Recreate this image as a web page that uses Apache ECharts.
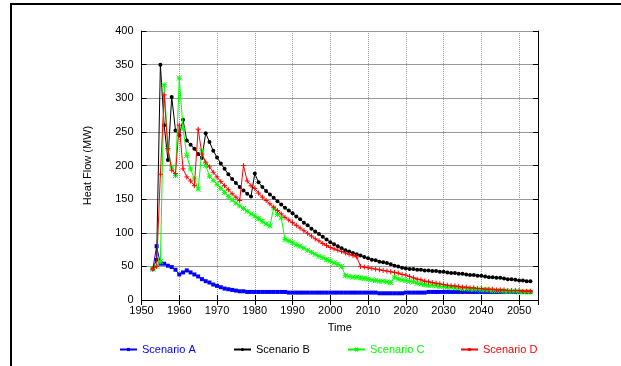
<!DOCTYPE html>
<html>
<head>
<meta charset="utf-8">
<script src="https://cdn.jsdelivr.net/npm/echarts@6/dist/echarts.min.js"></script>
<style>
html,body{margin:0;padding:0;background:#fff;}
#chart{width:621px;height:366px;}
</style>
</head>
<body>
<div id="chart"></div>
<script>
// Years 1953..2053
const years = [];
for (let y = 1953; y <= 2053; y++) years.push(y);

const seriesNames = ['Scenario A', 'Scenario B', 'Scenario C', 'Scenario D'];
const xTicks = [1950, 1960, 1970, 1980, 1990, 2000, 2010, 2020, 2030, 2040, 2050];
const yTicks = [0, 50, 100, 150, 200, 250, 300, 350, 400];

const scenarioA = [
  46, 80, 54, 54, 51, 49, 45, 38, 41, 44,
  41, 38, 35, 31, 28, 26, 23, 21, 19, 17,
  16, 15, 14, 13, 13, 12, 12, 12, 12, 12,
  12, 12, 12, 12, 12, 12, 11, 11, 11, 11,
  11, 11, 11, 11, 11, 11, 11, 11, 11, 11,
  11, 11, 11, 11, 11, 11, 11, 11, 11, 11,
  10, 10, 10, 10, 10, 10, 10, 11, 11, 11,
  11, 11, 11, 12, 12, 12, 12, 12, 12, 12,
  12, 12, 12, 12, 12, 12, 12, 12, 12, 12,
  12, 12, 12, 12, 12, 12, 12, 12, 12, 12,
  12
];
const scenarioB = [
  47, 60, 350, 260, 208, 302, 252, 245, 268, 237,
  231, 225, 217, 211, 248, 235, 222, 212, 203, 195,
  187, 180, 174, 168, 163, 158, 154, 188, 175, 168,
  162, 157, 152, 147, 142, 137, 133, 129, 124, 120,
  115, 111, 106, 102, 98, 94, 90, 86, 83, 80,
  77, 74, 72, 70, 68, 66, 64, 62, 60, 59,
  57, 56, 55, 53, 51, 50, 48, 47, 46, 46,
  45, 45, 44, 44, 43, 43, 42, 42, 41, 40,
  40, 39, 39, 38, 37, 37, 36, 36, 35, 34,
  34, 33, 33, 32, 31, 31, 30, 29, 29, 28,
  28
];
const scenarioC = [
  46, 50, 57, 320, 225, 198, 185, 330, 255, 215,
  195, 180, 165, 222, 200, 184, 178, 172, 166, 160,
  154, 149, 144, 140, 136, 132, 128, 125, 121, 117,
  113, 110, 137, 127, 122, 90, 88, 85, 82, 80,
  77, 74, 71, 68, 65, 63, 60, 58, 55, 53,
  50, 36, 35, 34, 34, 33, 32, 31, 30, 29,
  28, 28, 27, 26, 34, 31, 30, 29, 28, 27,
  25, 24, 23, 22, 22, 21, 20, 20, 19, 19,
  18, 18, 17, 17, 16, 16, 16, 15, 15, 15,
  14, 14, 14, 13, 13, 13, 13, 12, 12, 12,
  12
];
const scenarioD = [
  46, 50, 187, 305, 225, 193, 188, 260, 195, 183,
  177, 170, 254, 217, 205, 198, 190, 183, 176, 170,
  164, 158, 153, 148, 200, 177, 170, 166, 159, 153,
  148, 143, 138, 133, 128, 123, 119, 115, 111, 107,
  103, 99, 95, 91, 88, 84, 81, 78, 76, 74,
  72, 70, 68, 66, 64, 50, 49, 48, 47, 46,
  45, 44, 43, 42, 41, 40, 38, 37, 35, 33,
  31, 30, 28, 27, 26, 25, 24, 23, 22, 21,
  21, 20, 19, 19, 18, 18, 17, 17, 16, 16,
  16, 15, 15, 15, 14, 14, 14, 14, 13, 13,
  13
];

const colors = ['#0000ff', '#000000', '#00ff00', '#ff0000'];
const symbols = [
  'rect',
  'circle',
  'path://M0,0L10,10M10,0L0,10M5,0L5,10M0,5L10,5',
  'path://M5,0L5,10M0,5L10,5'
];
const symbolSizes = [4, 4, 5, 5];
const allValues = [scenarioA, scenarioB, scenarioC, scenarioD];

const FONT = '"Liberation Sans", Arial, Helvetica, sans-serif';

const chart = echarts.init(document.getElementById('chart'), null, {renderer: 'canvas'});

const series = allValues.map((vals, i) => ({
  name: seriesNames[i],
  type: 'line',
  data: years.map((y, k) => [y, vals[k]]),
  symbol: symbols[i],
  symbolSize: symbolSizes[i],
  showSymbol: true,
  showAllSymbol: true,
  lineStyle: {color: colors[i], width: 1},
  itemStyle: {color: colors[i], borderColor: colors[i], borderWidth: (i >= 2 ? 1 : 0)},
  emphasis: {disabled: true},
  z: 3 + i
}));

const legendLefts = [114, 228, 342, 455];
const legends = seriesNames.map((n, i) => ({
  data: [{name: n, textStyle: {color: colors[i]}}],
  left: legendLefts[i],
  top: 339,
  itemWidth: 17,
  itemHeight: 4,
  itemGap: 5,
  textStyle: {fontFamily: FONT, fontSize: 11},
  selectedMode: false
}));

chart.setOption({
  animation: false,
  backgroundColor: '#ffffff',
  textStyle: {fontFamily: FONT},
  grid: {left: 141.5, right: 83, top: 31, bottom: 66, show: false},
  legend: legends,
  xAxis: [{
    type: 'value',
    min: 1950, max: 2055, interval: 10,
    name: 'Time', nameLocation: 'middle', nameGap: 22,
    nameTextStyle: {fontFamily: FONT, fontSize: 11, color: '#000'},
    axisLine: {show: true, onZero: false, lineStyle: {color: '#000', width: 1}},
    axisTick: {show: true, inside: true, length: 5, lineStyle: {color: '#000'}},
    axisLabel: {
      fontFamily: FONT, fontSize: 11, color: '#000', margin: 5,
      formatter: v => (xTicks.indexOf(v) >= 0 ? String(v) : '')
    },
    splitLine: {show: true, lineStyle: {color: '#999', type: 'dotted', width: 1}}
  }, {
    type: 'value', position: 'top',
    min: 1950, max: 2055, interval: 10,
    axisLine: {show: true, lineStyle: {color: '#000', width: 1}},
    axisTick: {show: true, inside: true, length: 5, lineStyle: {color: '#000'}},
    axisLabel: {show: false},
    splitLine: {show: false}
  }],
  yAxis: [{
    type: 'value',
    min: 0, max: 400, interval: 50,
    name: 'Heat Flow (MW)', nameLocation: 'middle', nameGap: 48, nameRotate: 90,
    nameTextStyle: {fontFamily: FONT, fontSize: 11, color: '#000'},
    axisLine: {show: true, lineStyle: {color: '#000', width: 1}},
    axisTick: {show: true, inside: true, length: 5, lineStyle: {color: '#000'}},
    axisLabel: {
      fontFamily: FONT, fontSize: 11, color: '#000', margin: 8,
      formatter: v => (yTicks.indexOf(v) >= 0 ? String(v) : '')
    },
    splitLine: {show: true, lineStyle: {color: '#333', type: 'dotted', width: 1}}
  }, {
    type: 'value', position: 'right',
    min: 0, max: 400, interval: 50,
    axisLine: {show: true, lineStyle: {color: '#000', width: 1}},
    axisTick: {show: true, inside: true, length: 5, lineStyle: {color: '#000'}},
    axisLabel: {show: false},
    splitLine: {show: false}
  }],
  graphic: [{
    type: 'polyline',
    shape: {points: [[11, 370], [11, 4], [625, 4]]},
    style: {stroke: '#000', lineWidth: 2, fill: null},
    silent: true
  }],
  series: series
});
</script>
</body>
</html>
